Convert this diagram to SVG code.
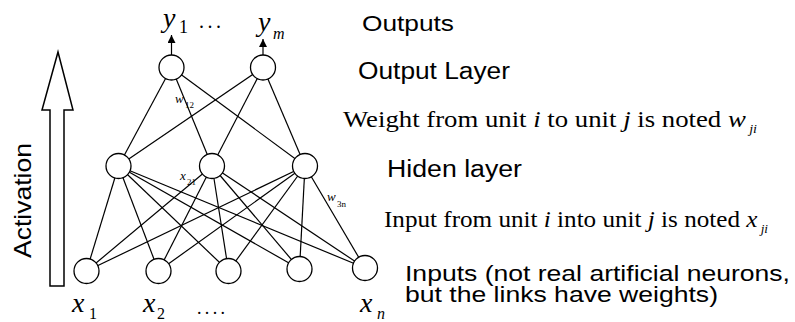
<svg xmlns="http://www.w3.org/2000/svg" width="795" height="322" viewBox="0 0 795 322">
<style>
.n{fill:#fff;stroke:#000;stroke-width:1.3}
.c line{stroke:#000;stroke-width:1.2}
.s{font-family:"Liberation Sans",Arial,sans-serif;fill:#000}
.t{font-family:"Liberation Serif","Times New Roman",serif;fill:#000}
.i{font-style:italic}
</style>
<defs>
<marker id="ah" viewBox="0 0 10 10" refX="10" refY="5" markerWidth="8" markerHeight="8" markerUnits="userSpaceOnUse" orient="auto">
<path d="M0,0 L10,5 L0,10 Z" fill="#000"/>
</marker>
</defs>
<rect width="795" height="322" fill="#fff"/>
<g id="activation">
<polygon points="58,52 73,110 64,110 64,286 50,286 50,110 42,110" fill="#fff" stroke="#000" stroke-width="1.5"/>
<text class="s" transform="translate(31,258) rotate(-90)" font-size="24" textLength="115" lengthAdjust="spacingAndGlyphs">Activation</text>
</g>
<g class="c" id="connectors">
<line x1="171.5" y1="67.5" x2="118.5" y2="166"/>
<line x1="171.5" y1="67.5" x2="212" y2="166"/>
<line x1="171.5" y1="67.5" x2="305" y2="166"/>
<line x1="263" y1="67.5" x2="118.5" y2="166"/>
<line x1="263" y1="67.5" x2="212" y2="166"/>
<line x1="263" y1="67.5" x2="305" y2="166"/>
<line x1="118.5" y1="166" x2="86.5" y2="271"/>
<line x1="118.5" y1="166" x2="158.5" y2="271"/>
<line x1="118.5" y1="166" x2="228.5" y2="271"/>
<line x1="118.5" y1="166" x2="299.5" y2="269"/>
<line x1="118.5" y1="166" x2="365" y2="268"/>
<line x1="212" y1="166" x2="86.5" y2="271"/>
<line x1="212" y1="166" x2="158.5" y2="271"/>
<line x1="212" y1="166" x2="228.5" y2="271"/>
<line x1="212" y1="166" x2="299.5" y2="269"/>
<line x1="212" y1="166" x2="365" y2="268"/>
<line x1="305" y1="166" x2="86.5" y2="271"/>
<line x1="305" y1="166" x2="158.5" y2="271"/>
<line x1="305" y1="166" x2="228.5" y2="271"/>
<line x1="305" y1="166" x2="299.5" y2="269"/>
<line x1="305" y1="166" x2="365" y2="268"/>
<line x1="171.5" y1="55" x2="171.5" y2="35" marker-end="url(#ah)"/>
<line x1="263" y1="55" x2="263" y2="39" marker-end="url(#ah)"/>
</g>
<g id="out1"><circle class="n" cx="171.5" cy="67.5" r="12.5"/></g>
<g id="out2"><circle class="n" cx="263" cy="67.5" r="12.5"/></g>
<g id="hid1"><circle class="n" cx="118.5" cy="166" r="12.5"/></g>
<g id="hid2"><circle class="n" cx="212" cy="166" r="12.5"/></g>
<g id="hid3"><circle class="n" cx="305" cy="166" r="12.5"/></g>
<g id="in1"><circle class="n" cx="86.5" cy="271" r="12.5"/></g>
<g id="in2"><circle class="n" cx="158.5" cy="271" r="12.5"/></g>
<g id="in3"><circle class="n" cx="228.5" cy="271" r="12.5"/></g>
<g id="in4"><circle class="n" cx="299.5" cy="269" r="12.5"/></g>
<g id="in5"><circle class="n" cx="365" cy="268" r="12.5"/></g>
<g id="labels">
<text class="t i" x="163" y="27" font-size="28">y</text>
<text class="t" x="179" y="33" font-size="18">1</text>
<text class="t" x="199" y="28" font-size="20" textLength="22" lengthAdjust="spacing">...</text>
<text class="t i" x="258" y="31" font-size="28">y</text>
<text class="t i" x="273" y="39" font-size="16">m</text>
<text class="t i" x="72" y="312" font-size="28">x</text>
<text class="t" x="89" y="319" font-size="16">1</text>
<text class="t i" x="143" y="312" font-size="28">x</text>
<text class="t" x="157" y="319" font-size="16">2</text>
<text class="t" x="197" y="314" font-size="18" textLength="28" lengthAdjust="spacing">....</text>
<text class="t i" x="360" y="312" font-size="28">x</text>
<text class="t i" x="377" y="319" font-size="16">n</text>
<text class="t i" x="175" y="103" font-size="13">w</text>
<text class="t" x="185" y="108" font-size="9">12</text>
<text class="t i" x="180" y="180" font-size="13">x</text>
<text class="t" x="187" y="185" font-size="9">21</text>
<text class="t i" x="327" y="201" font-size="13">w</text>
<text class="t" x="337" y="207" font-size="9">3n</text>
</g>
<g id="captions">
<text class="s" x="362" y="31" font-size="22" textLength="92" lengthAdjust="spacingAndGlyphs">Outputs</text>
<text class="s" x="358" y="79" font-size="23" textLength="152" lengthAdjust="spacingAndGlyphs">Output Layer</text>
<text class="t" x="343" y="127" font-size="23" textLength="414" lengthAdjust="spacingAndGlyphs">Weight from unit <tspan class="i">i</tspan> to unit <tspan class="i">j</tspan> is noted <tspan class="i">w</tspan><tspan class="i" font-size="12" dx="3" dy="6">ji</tspan></text>
<text class="s" x="387" y="177" font-size="23" textLength="135" lengthAdjust="spacingAndGlyphs">Hiden layer</text>
<text class="t" x="384" y="227" font-size="23" textLength="384" lengthAdjust="spacingAndGlyphs">Input from unit <tspan class="i">i</tspan> into unit <tspan class="i">j</tspan> is noted <tspan class="i">x</tspan><tspan class="i" font-size="12" dx="3" dy="6">ji</tspan></text>
<text class="s" x="405" y="281" font-size="22" textLength="385" lengthAdjust="spacingAndGlyphs">Inputs (not real artificial neurons,</text>
<text class="s" x="405" y="302" font-size="22" textLength="313" lengthAdjust="spacingAndGlyphs">but the links have weights)</text>
</g>
</svg>
